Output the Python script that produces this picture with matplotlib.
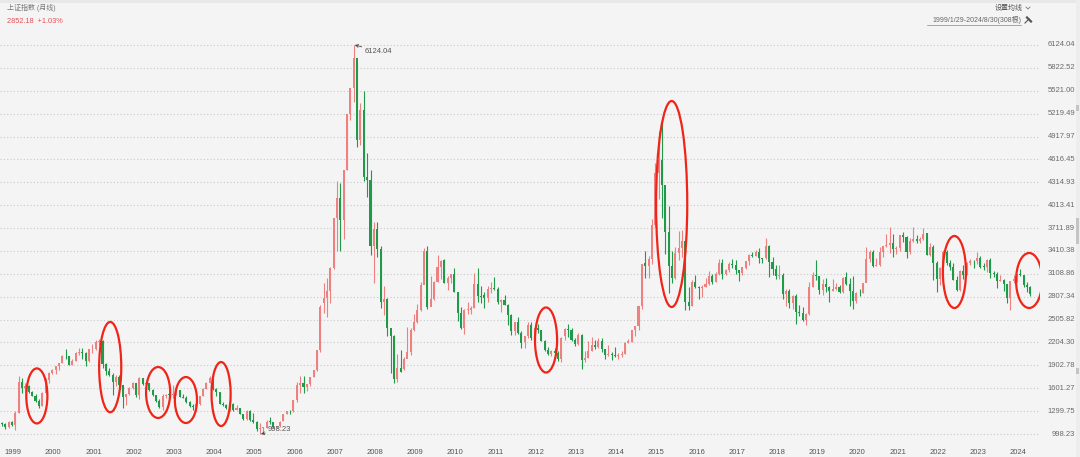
import matplotlib
matplotlib.use("Agg")
import matplotlib.pyplot as plt
import matplotlib.transforms as mtrans
from matplotlib.patches import Ellipse, Rectangle
from matplotlib.lines import Line2D
import numpy as np

plt.rcParams['font.family'] = ['Liberation Sans', 'Noto Sans CJK SC', 'DejaVu Sans']

# ---------------- data (monthly, 1999-01 .. 2024-08, 308 bars) ----------------
opens = [
    1144.9, 1133.0, 1090.5, 1158.3, 1121.0, 1280.0, 1689.0, 1601.0, 1627.0, 1557.0, 1505.0, 1436.0,
    1367, 1535, 1715, 1800, 1836, 1895, 1928, 2023, 2021, 1910, 1961, 2071,
    2077, 2065, 1959, 2113, 2119, 2214, 2218, 1920, 1834, 1780, 1689, 1748,
    1646, 1492, 1525, 1604, 1667, 1515, 1732, 1654, 1669, 1581, 1507, 1436,
    1357, 1500, 1511, 1510, 1521, 1576, 1487, 1477, 1421, 1367, 1349, 1397,
    1497, 1590, 1675, 1742, 1595, 1555, 1399, 1386, 1342, 1396, 1320, 1340,
    1266, 1191, 1306, 1181, 1159, 1060, 1080, 1083, 1163, 1155, 1092, 1100,
    1163, 1258, 1299, 1299, 1440, 1641, 1672, 1612, 1658, 1752, 1837, 2099,
    2728, 2786, 2881, 3183, 3841, 4109, 3820, 4471, 5218, 5552, 5954, 4871,
    5265, 4383, 4348, 3473, 3693, 3433, 2736, 2775, 2397, 2293, 1729, 1871,
    1849, 1991, 2082, 2374, 2477, 2633, 2959, 3412, 2668, 2779, 2996, 3195,
    3289, 2989, 3051, 3110, 2871, 2593, 2398, 2638, 2638, 2656, 2979, 2820,
    2825, 2790, 2905, 2928, 2911, 2743, 2762, 2701, 2568, 2359, 2468, 2333,
    2212, 2292, 2428, 2263, 2396, 2372, 2225, 2103, 2047, 2086, 2068, 1980,
    2289, 2385, 2366, 2237, 2178, 2301, 1979, 1994, 2098, 2175, 2142, 2220,
    2112, 2033, 2056, 2033, 2026, 2039, 2048, 2201, 2217, 2364, 2420, 2683,
    3258, 3210, 3310, 3748, 4442, 4612, 4277, 3664, 3206, 3053, 3383, 3446,
    3536, 2738, 2688, 3004, 2938, 2917, 2930, 2979, 3085, 3005, 3100, 3250,
    3105, 3159, 3242, 3223, 3155, 3117, 3192, 3273, 3361, 3349, 3393, 3317,
    3314, 3481, 3259, 3169, 3082, 3095, 2847, 2876, 2725, 2821, 2603, 2588,
    2497, 2585, 2941, 3091, 3078, 2899, 2979, 2932, 2886, 2905, 2929, 2872,
    3066, 2977, 2880, 2750, 2860, 2852, 2985, 3310, 3396, 3218, 3225, 3392,
    3474, 3483, 3509, 3442, 3447, 3615, 3591, 3397, 3544, 3568, 3547, 3564,
    3649, 3361, 3462, 3252, 3047, 3186, 3398, 3253, 3202, 3024, 2893, 3151,
    3087, 3255, 3280, 3273, 3323, 3205, 3202, 3291, 3120, 3110, 3019, 3030,
    2972, 2789, 3015, 3041, 3105, 3087, 2967, 2939,
]
closes = [
    1134.67, 1090.08, 1158.05, 1120.92, 1279.32, 1689.42, 1601.28, 1627.42, 1556.91, 1504.71, 1436.07, 1366.58,
    1534.99, 1714.58, 1800.22, 1836.32, 1894.55, 1928.11, 2023.17, 2021.19, 1910.16, 1961.28, 2070.61, 2073.48,
    2065.29, 1959.18, 2112.77, 2119.18, 2214.26, 2218.03, 1920.32, 1834.11, 1779.76, 1689.03, 1748.06, 1645.97,
    1491.7, 1524.7, 1603.0, 1667.0, 1515.7, 1732.8, 1654.0, 1669.0, 1581.6, 1507.0, 1436.0, 1357.7,
    1499.8, 1511.9, 1510.8, 1521.4, 1576.2, 1487.0, 1476.7, 1421.9, 1367.2, 1348.3, 1397.2, 1497.0,
    1590.7, 1675.1, 1741.6, 1595.6, 1555.9, 1399.2, 1386.2, 1342.1, 1396.7, 1320.5, 1340.8, 1266.5,
    1191.8, 1306.0, 1181.2, 1159.2, 1060.7, 1080.9, 1083.0, 1162.8, 1155.6, 1092.8, 1099.3, 1161.1,
    1258.1, 1299.0, 1298.3, 1440.2, 1641.3, 1672.2, 1612.7, 1658.6, 1752.4, 1837.9, 2099.3, 2675.5,
    2786.3, 2881.1, 3183.9, 3841.3, 4109.7, 3820.7, 4471.0, 5218.8, 5552.3, 5954.8, 4871.8, 5261.6,
    4383.4, 4348.5, 3472.7, 3693.1, 3433.4, 2736.1, 2775.7, 2397.4, 2293.8, 1728.8, 1871.2, 1820.8,
    1990.7, 2082.9, 2373.2, 2477.6, 2632.9, 2959.4, 3412.1, 2667.7, 2779.4, 2995.9, 3195.3, 3277.1,
    2989.3, 3051.9, 3109.1, 2870.6, 2592.2, 2398.4, 2637.5, 2638.8, 2655.7, 2978.8, 2820.2, 2808.1,
    2790.7, 2905.1, 2928.1, 2911.5, 2743.5, 2762.1, 2701.7, 2567.3, 2359.2, 2468.3, 2333.4, 2199.4,
    2292.6, 2428.5, 2262.8, 2396.3, 2372.2, 2225.4, 2103.6, 2047.5, 2086.2, 2068.9, 1980.1, 2269.1,
    2385.4, 2365.6, 2236.6, 2177.9, 2300.6, 1979.2, 1993.8, 2098.4, 2174.7, 2141.6, 2220.5, 2116.0,
    2033.1, 2056.3, 2033.3, 2026.4, 2039.2, 2048.3, 2201.6, 2217.2, 2363.9, 2420.2, 2682.8, 3234.7,
    3210.4, 3310.3, 3747.9, 4441.7, 4611.7, 4277.2, 3663.7, 3205.9, 3052.8, 3382.6, 3445.4, 3539.2,
    2737.6, 2688.0, 3003.9, 2938.3, 2916.6, 2929.6, 2979.3, 3085.5, 3004.7, 3100.5, 3250.0, 3103.6,
    3159.2, 3241.7, 3222.5, 3154.7, 3117.2, 3192.4, 3273.0, 3360.8, 3348.9, 3393.3, 3317.2, 3307.2,
    3480.8, 3259.4, 3168.9, 3082.2, 3095.5, 2847.4, 2876.4, 2725.3, 2821.4, 2602.8, 2588.2, 2493.9,
    2584.6, 2940.9, 3090.8, 3078.3, 2898.7, 2978.9, 2932.5, 2886.2, 2905.2, 2929.1, 2872.0, 3050.1,
    2976.5, 2880.3, 2750.3, 2860.1, 2852.4, 2984.7, 3310.0, 3395.7, 3218.1, 3224.5, 3391.8, 3473.1,
    3483.1, 3509.1, 3441.9, 3446.9, 3615.5, 3591.2, 3397.4, 3544.0, 3568.2, 3547.3, 3563.9, 3639.8,
    3361.4, 3462.3, 3252.2, 3047.1, 3186.4, 3398.6, 3253.2, 3202.1, 3024.4, 2893.5, 3151.3, 3089.3,
    3255.7, 3279.6, 3272.9, 3323.3, 3204.6, 3202.1, 3291.0, 3120.0, 3110.5, 3018.8, 3029.7, 2974.9,
    2788.6, 3015.2, 3041.2, 3104.8, 3086.8, 2967.4, 2938.8, 2842.2,
]
highs = [
    1162, 1140, 1170, 1174, 1295, 1756, 1740, 1665, 1647, 1570, 1530, 1458,
    1546, 1730, 1820, 1856, 1899, 1938, 2034, 2114, 2025, 1982, 2077, 2125,
    2131, 2076, 2115, 2184, 2232, 2245, 2233, 1931, 1863, 1798, 1776, 1776,
    1649, 1530, 1616, 1677, 1674, 1748, 1733, 1698, 1670, 1587, 1512, 1464,
    1522, 1526, 1550, 1649, 1588, 1583, 1527, 1495, 1431, 1387, 1406, 1500,
    1601, 1688, 1760, 1783, 1604, 1556, 1415, 1400, 1514, 1409, 1377, 1337,
    1265, 1315, 1313, 1274, 1164, 1146, 1092, 1177, 1224, 1156, 1106, 1163,
    1260, 1306, 1308, 1445, 1681, 1757, 1757, 1663, 1753, 1838, 2103, 2698,
    2994, 3049, 3198, 3848, 4335, 4311, 4473, 5220, 5562, 6124.04, 5900, 5355,
    5522, 4695, 4472, 3786, 3786, 3473, 2952, 2796, 2333, 2302, 2050, 2100,
    2012, 2402, 2399, 2579, 2712, 3000, 3455, 3478, 3079, 3015, 3361, 3297,
    3306, 3081, 3113, 3181, 2856, 2676, 2647, 2738, 2684, 3120, 3186, 2954,
    2867, 2943, 3000, 3067, 2930, 2776, 2826, 2717, 2574, 2480, 2536, 2356,
    2296, 2478, 2478, 2417, 2453, 2366, 2243, 2150, 2101, 2125, 2087, 2276,
    2399, 2445, 2390, 2269, 2334, 2314, 2092, 2219, 2270, 2243, 2267, 2260,
    2123, 2177, 2077, 2146, 2062, 2089, 2207, 2249, 2369, 2422, 2683, 3239,
    3406, 3344, 3835, 4572, 4986, 5178, 4185, 4006, 3407, 3458, 3679, 3684,
    3539, 2933, 3026, 3097, 2947, 2967, 3059, 3140, 3101, 3129, 3301, 3301,
    3174, 3262, 3301, 3295, 3158, 3193, 3275, 3376, 3391, 3418, 3451, 3312,
    3587, 3495, 3335, 3220, 3219, 3124, 2915, 2915, 2827, 2838, 2703, 2667,
    2598, 2997, 3129, 3288, 3074, 3044, 3048, 2943, 3047, 2994, 2965, 3070,
    3127, 3058, 3074, 2866, 2905, 2992, 3458, 3424, 3425, 3312, 3457, 3474,
    3637, 3731, 3629, 3481, 3625, 3655, 3612, 3582, 3723, 3615, 3593, 3708,
    3651, 3511, 3483, 3282, 3194, 3424, 3418, 3296, 3258, 3082, 3162, 3227,
    3265, 3303, 3297, 3395, 3350, 3252, 3300, 3322, 3150, 3139, 3091, 3045,
    2977, 3020, 3090, 3112, 3174, 3090, 3005, 2943,
]
lows = [
    1105, 1064, 1079, 1105, 1047, 1280, 1533, 1556, 1537, 1493, 1419, 1341,
    1361, 1526, 1676, 1785, 1794, 1846, 1929, 1990, 1907, 1905, 1960, 2039,
    1985, 1893, 1953, 2067, 2107, 2172, 1868, 1773, 1763, 1514, 1626, 1620,
    1339, 1381, 1517, 1586, 1485, 1455, 1645, 1625, 1567, 1497, 1418, 1339,
    1311, 1478, 1481, 1478, 1508, 1480, 1467, 1406, 1359, 1316, 1307, 1385,
    1496, 1589, 1669, 1573, 1497, 1392, 1362, 1329, 1301, 1306, 1310, 1259,
    1177, 1189, 1167, 1137, 1044, 998.23, 1004, 1075, 1134, 1081, 1074, 1094,
    1163, 1258, 1257, 1294, 1415, 1545, 1541, 1567, 1637, 1747, 1825, 2083,
    2595, 2541, 2723, 3179, 3405, 3404, 3563, 4475, 5141, 5375, 4778, 4812,
    4330, 4123, 3357, 2990, 3333, 2655, 2566, 2284, 1802, 1664, 1678, 1814,
    1844, 2037, 2037, 2352, 2464, 2617, 2990, 2639, 2712, 2770, 3004, 3039,
    2983, 2890, 2988, 2866, 2481, 2383, 2320, 2580, 2573, 2663, 2731, 2722,
    2661, 2734, 2858, 2900, 2711, 2610, 2697, 2437, 2307, 2307, 2319, 2134,
    2132, 2262, 2242, 2245, 2330, 2223, 2090, 2040, 2029, 2060, 1959, 1949,
    2238, 2278, 2228, 2161, 2168, 1849, 1950, 1994, 2090, 2123, 2130, 2085,
    1985, 2025, 1974, 2013, 1991, 2010, 2047, 2195, 2215, 2291, 2367, 2648,
    3050, 3050, 3240, 3727, 4099, 3848, 3373, 2850, 2983, 3039, 3297, 3327,
    2638, 2638, 2682, 2920, 2781, 2808, 2933, 2955, 2969, 3001, 3097, 3044,
    3096, 3138, 3181, 3105, 3016, 3087, 3172, 3226, 3328, 3340, 3254, 3254,
    3304, 3062, 3091, 3041, 3041, 2782, 2691, 2653, 2644, 2449, 2553, 2483,
    2440, 2570, 2929, 3034, 2838, 2825, 2867, 2733, 2881, 2891, 2858, 2857,
    2968, 2685, 2647, 2720, 2818, 2860, 2999, 3263, 3202, 3210, 3209, 3325,
    3456, 3380, 3329, 3367, 3416, 3529, 3313, 3373, 3532, 3512, 3520, 3557,
    3356, 3345, 3023, 2863, 2958, 3124, 3231, 3155, 3021, 2886, 2885, 3040,
    3089, 3224, 3189, 3232, 3181, 3153, 3136, 3053, 3069, 2923, 3010, 2882,
    2724, 2635, 2994, 2995, 3085, 2933, 2865, 2815,
]
years = [str(y) for y in range(1999, 2025)]
ytick_values = [6124.04, 5822.52, 5521.00, 5219.49, 4917.97, 4616.45, 4314.93, 4013.41,
                3711.89, 3410.38, 3108.86, 2807.34, 2505.82, 2204.30, 1902.78, 1601.27,
                1299.75, 998.23]
ytick_labels = ["%.2f" % v for v in ytick_values]
# highlighted ellipses: (center month index, center price, width in months, height in price)
ellipse_centers = [10.4, 32.3, 46.6, 54.9, 65.4, 162.4, 199.9, 284.3, 306.6]
ellipse_prices = [1500, 1880, 1545, 1446, 1525, 2237, 4029, 3133, 3021]
ellipse_widths = [6.3, 6.6, 7.2, 6.6, 5.7, 6.6, 9.3, 6.9, 7.8]
ellipse_heights = [725, 1190, 672, 606, 843, 857, 2715, 949, 725]

# ---------------- figure ----------------
W, H = 1080, 457
fig = plt.figure(figsize=(W / 100, H / 100), dpi=100)
fig.patch.set_facecolor('#f4f4f4')
fig.add_artist(Rectangle((0, 1 - 3 / H), 1, 3 / H, transform=fig.transFigure,
                         facecolor='#e8e8e8', edgecolor='none'))

ax_top_px, ax_bot_px, ax_right_px = 30, 442, 1040
ax = fig.add_axes([0, 1 - ax_bot_px / H, ax_right_px / W, (ax_bot_px - ax_top_px) / H])
ax.set_facecolor('#f4f4f4')
for s in ax.spines.values():
    s.set_visible(False)

px_per_month = 3.35
ax.set_xlim(-2 / px_per_month, -2 / px_per_month + ax_right_px / px_per_month)
ppx = (6124.04 - 998.23) / (434 - 45)
ax.set_ylim(998.23 - (ax_bot_px - 434) * ppx, 6124.04 + (45 - ax_top_px) * ppx)

ax.set_yticks(ytick_values)
ax.set_yticklabels([])
ax.set_xticks([])
ax.tick_params(left=False, right=False, bottom=False)
ax.grid(axis='y', color='#c9c9c9', linestyle=(0, (1, 2)), linewidth=0.8)
ax.set_axisbelow(True)

o = np.array(opens, float)
c = np.array(closes, float)
h = np.array(highs, float)
l = np.array(lows, float)
idx = np.arange(len(c))
up = c >= o
up_col, dn_col = '#ee8080', '#1f9a48'
cols = np.where(up, up_col, dn_col)
ax.vlines(idx, l, h, colors=cols, linewidth=0.8, zorder=2)
body_bot = np.minimum(o, c)
body_h = np.maximum(np.abs(c - o), 8)
ax.bar(idx, body_h, bottom=body_bot, width=0.62, color=cols, linewidth=0, zorder=3)

# ellipses
for cx, cy, ew, eh in zip(ellipse_centers, ellipse_prices, ellipse_widths, ellipse_heights):
    ax.add_patch(Ellipse((cx, cy), ew, eh, fill=False, edgecolor='#f02418',
                         linewidth=1.6, zorder=5))

# max / min annotations
imax = int(np.argmax(h))
imin = int(np.argmin(l))
ax.annotate("%.2f" % h[imax], xy=(imax + 0.3, h[imax]), xytext=(7, -4.5),
            textcoords='offset points', fontsize=5.5, color='#555555', va='center', ha='left',
            arrowprops=dict(arrowstyle='->', color='#444444', lw=0.6,
                            shrinkA=0, shrinkB=0, mutation_scale=5))
ax.annotate("%.2f" % l[imin], xy=(imin + 0.3, l[imin]), xytext=(5, 3),
            textcoords='offset points', fontsize=5.5, color='#555555', va='center', ha='left',
            arrowprops=dict(arrowstyle='->', color='#444444', lw=0.6,
                            shrinkA=0, shrinkB=0, mutation_scale=5))

# y labels on the right
tr = mtrans.blended_transform_factory(fig.transFigure, ax.transData)
for v, lab in zip(ytick_values, ytick_labels):
    fig.text(1075 / W, v, lab, transform=tr, ha='right', va='center',
             fontsize=5.5, color='#6a6a6a')

# year labels
trx = mtrans.blended_transform_factory(ax.transData, fig.transFigure)
for k, yl in enumerate(years):
    fig.text(12 * k + 0.85, 1 - 452 / H, yl, transform=trx, ha='left', va='center',
             fontsize=5.5, color='#555555')

# header texts
fig.text(7 / W, 1 - 8 / H, "上证指数 (月线)", ha='left', va='center', fontsize=5.0, color='#777777')
fig.text(7 / W, 1 - 21.5 / H, "2852.18  +1.03%", ha='left', va='center', fontsize=5.3, color='#e8505a')
fig.text(1023 / W, 1 - 8 / H, "设置均线", ha='right', va='center', fontsize=5.0, color='#555555')
fig.add_artist(Line2D([1026 / W, 1028 / W, 1030 / W], [1 - 7 / H, 1 - 9 / H, 1 - 7 / H],
                      transform=fig.transFigure, color='#777777', lw=0.6))
fig.text(1021 / W, 1 - 20.5 / H, "1999/1/29-2024/8/30(308根)", ha='right', va='center',
         fontsize=5.0, color='#666666')
fig.add_artist(Line2D([927 / W, 1021 / W], [1 - 25 / H, 1 - 25 / H], transform=fig.transFigure,
                      color='#888888', lw=0.5))
# pin icon
fig.add_artist(Line2D([1025 / W, 1029 / W], [1 - 23 / H, 1 - 19 / H], transform=fig.transFigure,
                      color='#555555', lw=0.8))
fig.add_artist(Line2D([1027 / W, 1031 / W], [1 - 17.5 / H, 1 - 21.5 / H], transform=fig.transFigure,
                      color='#555555', lw=1.6))

# scrollbar strip
fig.add_artist(Rectangle((1076 / W, 0), 4 / W, 1, transform=fig.transFigure,
                         facecolor='#ededed', edgecolor='none'))
for yy, hh in [(105, 6), (218, 26), (368, 6)]:
    fig.add_artist(Rectangle((1076 / W, 1 - (yy + hh) / H), 3 / W, hh / H, transform=fig.transFigure,
                             facecolor='#c4c4c4', edgecolor='none'))

fig.savefig("out.png", dpi=100, facecolor=fig.get_facecolor())
